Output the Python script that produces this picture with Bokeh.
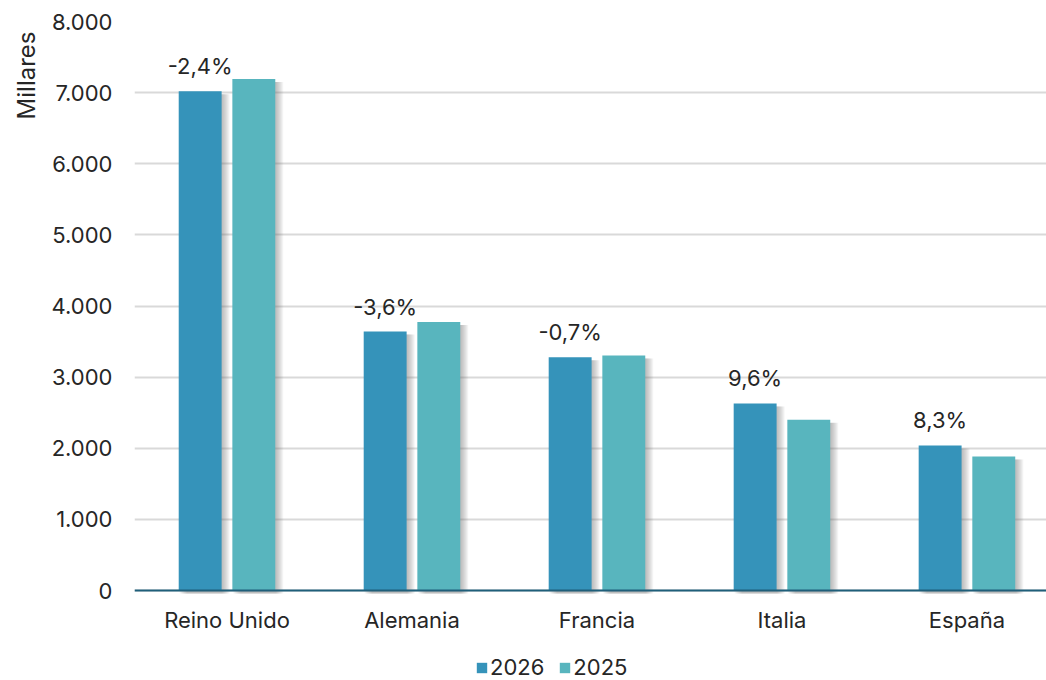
from bokeh.plotting import figure
from bokeh.models import ColumnDataSource, Legend, LegendItem, Title, FixedTicker, Range1d
from bokeh.embed import file_html
from bokeh.resources import INLINE
from bokeh.core.properties import value

categories = ["Reino Unido", "Alemania", "Francia", "Italia", "España"]
v2026 = [7020, 3640, 3280, 2630, 2040]
v2025 = [7190, 3776, 3303, 2400, 1884]
pct_labels = ["-2,4%", "-3,6%", "-0,7%", "9,6%", "8,3%"]
y_ticks = [0, 1000, 2000, 3000, 4000, 5000, 6000, 7000, 8000]
y_tick_labels = ["0", "1.000", "2.000", "3.000", "4.000", "5.000", "6.000", "7.000", "8.000"]
series_names = ["2026", "2025"]

FONT = "Inter"
TXT = "#262626"
C26 = "#3593BA"
C25 = "#58B5BE"

idx = list(range(len(categories)))
off = 0.145
bw = 0.232

# frame spans down to the bottom of the canvas so that the legend fits inside it
y_lo = -90 * 8000.0 / 569.0

p = figure(width=1046, height=680, output_backend="svg", toolbar_location=None,
           x_range=Range1d(-0.5, 4.43), y_range=Range1d(y_lo, 8000),
           min_border_left=134, min_border_right=0, min_border_top=21, min_border_bottom=0)
p.outline_line_color = None
p.background_fill_color = "white"

# soft drop shadows
px = 1.0 / 185.0
py = 8000.0 / 569.0
for k in range(1, 9):
    for vals, sgn in [(v2026, -1), (v2025, 1)]:
        p.vbar(x=[i + sgn * off + k * px for i in idx], width=bw,
               top=[v - 3 * py for v in vals], bottom=-3 * py,
               fill_color="#707070", fill_alpha=0.07, line_color=None)

src = ColumnDataSource(dict(x26=[i - off for i in idx], x25=[i + off for i in idx],
                            v26=v2026, v25=v2025, lab=pct_labels))
r26 = p.vbar(x="x26", top="v26", bottom=0, width=bw, source=src, fill_color=C26, line_color=None)
r25 = p.vbar(x="x25", top="v25", bottom=0, width=bw, source=src, fill_color=C25, line_color=None)

p.text(x="x26", y="v26", text="lab", source=src, text_align="center", text_baseline="bottom",
       y_offset=-12, text_font=value(FONT), text_font_size="22px", text_color=TXT)

# axes
p.xaxis.fixed_location = 0
p.xaxis.ticker = FixedTicker(ticks=idx)
p.xaxis.major_label_overrides = {i: c for i, c in enumerate(categories)}
p.xaxis.major_tick_line_color = None
p.xaxis.minor_tick_line_color = None
p.xaxis.axis_line_color = "#1F5F7A"
p.xaxis.axis_line_width = 2
p.xaxis.major_label_text_font = FONT
p.xaxis.major_label_text_font_size = "22px"
p.xaxis.major_label_text_color = TXT
p.xaxis.major_label_standoff = 10
p.xgrid.grid_line_color = None

p.yaxis.ticker = FixedTicker(ticks=y_ticks)
p.yaxis.major_label_overrides = {t: l for t, l in zip(y_ticks, y_tick_labels)}
p.yaxis.major_tick_line_color = None
p.yaxis.minor_tick_line_color = None
p.yaxis.axis_line_color = None
p.yaxis.major_label_text_font = FONT
p.yaxis.major_label_text_font_size = "22px"
p.yaxis.major_label_text_color = TXT
p.yaxis.major_label_standoff = 16
p.ygrid.grid_line_color = "#D9D9D9"
p.ygrid.grid_line_width = 2

t = Title(text="Millares", align="right", text_font=FONT, text_font_size="24px",
          text_font_style="normal", text_color=TXT, offset=10, standoff=16)
p.add_layout(t, "left")

legend = Legend(items=[LegendItem(label=series_names[0], renderers=[r26]),
                       LegendItem(label=series_names[1], renderers=[r25])],
                orientation="horizontal", location=(341, 0),
                label_text_font=FONT, label_text_font_size="22px", label_text_color=TXT,
                glyph_width=13, glyph_height=13, spacing=14, label_standoff=2,
                padding=0, margin=0, border_line_color=None, background_fill_alpha=0)
p.add_layout(legend, "center")

open("out.html", "w").write(file_html(p, INLINE))
